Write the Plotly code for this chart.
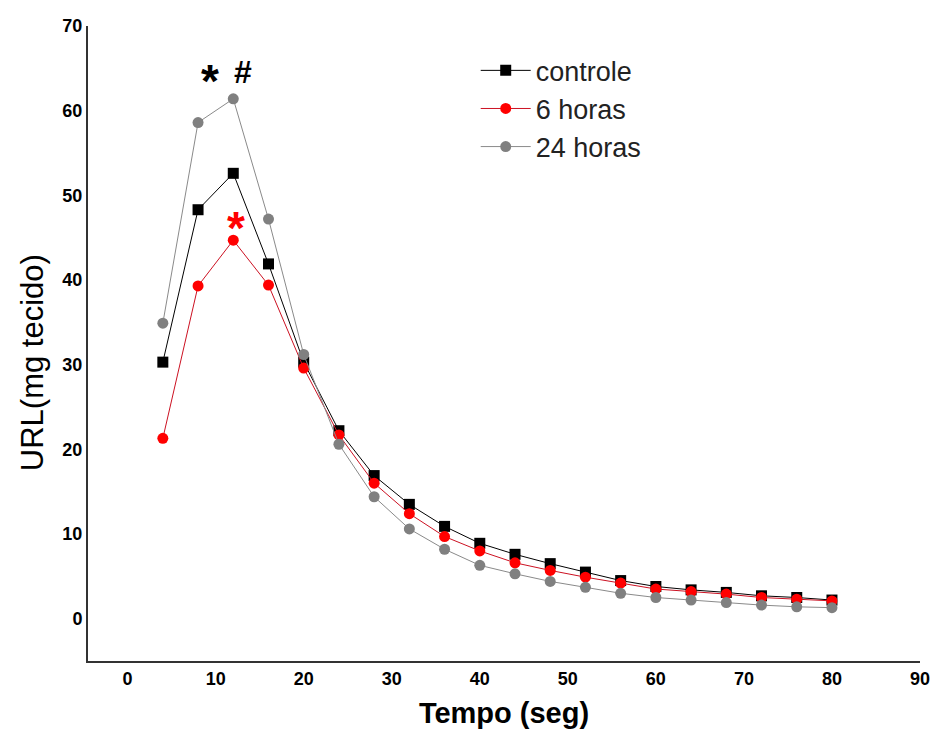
import plotly.graph_objects as go

tempo = [4, 8, 12, 16, 20, 24, 28, 32, 36, 40, 44, 48, 52, 56, 60, 64, 68, 72, 76, 80]
controle = [30.3, 48.3, 52.6, 41.9, 30.3, 22.2, 16.9, 13.5, 10.9, 8.9, 7.6, 6.5, 5.5, 4.5, 3.8, 3.4, 3.1, 2.7, 2.5, 2.2]
horas6 = [21.3, 39.3, 44.7, 39.4, 29.6, 21.7, 16.0, 12.4, 9.7, 8.0, 6.6, 5.7, 4.9, 4.2, 3.5, 3.2, 2.9, 2.5, 2.3, 2.1]
horas24 = [34.9, 58.6, 61.4, 47.2, 31.2, 20.6, 14.4, 10.6, 8.2, 6.3, 5.3, 4.4, 3.7, 3.0, 2.5, 2.2, 1.9, 1.6, 1.4, 1.3]

x_ticks = [0, 10, 20, 30, 40, 50, 60, 70, 80, 90]
y_ticks = [0, 10, 20, 30, 40, 50, 60, 70]

fig = go.Figure()
fig.add_trace(go.Scatter(x=tempo, y=controle, name="controle", mode="lines+markers",
                         line=dict(color="#000000", width=1),
                         marker=dict(symbol="square", size=11, color="#000000")))
fig.add_trace(go.Scatter(x=tempo, y=horas6, name="6 horas", mode="lines+markers",
                         line=dict(color="#cc1122", width=1),
                         marker=dict(symbol="circle", size=11, color="#ff0000")))
fig.add_trace(go.Scatter(x=tempo, y=horas24, name="24 horas", mode="lines+markers",
                         line=dict(color="#8a8a8a", width=1),
                         marker=dict(symbol="circle", size=11, color="#808080")))

fig.add_annotation(x=9.3, y=64.1, text="<b>*</b>", showarrow=False,
                   font=dict(size=46, color="#000000", family="Arial, Liberation Sans"), yshift=-5)
fig.add_annotation(x=13.1, y=64.6, text="<b>#</b>", showarrow=False,
                   font=dict(size=32, color="#000000", family="Arial, Liberation Sans"))
fig.add_annotation(x=12.3, y=47.2, text="<b>*</b>", showarrow=False,
                   font=dict(size=46, color="#ff0000", family="Arial, Liberation Sans"), yshift=-9)

fig.add_annotation(xref="paper", yref="paper", x=-0.0673, y=0.469, text="URL(mg tecido)",
                   textangle=-90, showarrow=False, xanchor="center", yanchor="middle",
                   font=dict(family="Arial, Liberation Sans", size=31, color="#000000"))

axis_font = dict(family="Arial, Liberation Sans", size=18, color="#000000", weight="bold")
fig.update_layout(
    width=943, height=729,
    margin=dict(l=88, r=23, t=26, b=68),
    paper_bgcolor="white", plot_bgcolor="white",
    showlegend=True,
    legend=dict(x=0.466, y=0.968, xanchor="left", yanchor="top",
                bgcolor="rgba(0,0,0,0)", itemwidth=50,
                font=dict(family="Arial, Liberation Sans", size=27, color="#222222"),
                tracegroupgap=0),
    xaxis=dict(range=[-4.5, 90], tickvals=x_ticks, showgrid=False, zeroline=False,
               showline=True, linecolor="#333333", linewidth=2, ticks="",
               tickfont=axis_font, automargin=False,
               title=dict(text="Tempo (seg)", standoff=16,
                          font=dict(family="Arial, Liberation Sans", size=29, color="#000000", weight="bold"))),
    yaxis=dict(range=[-5, 70], tickvals=y_ticks, showgrid=False, zeroline=False,
               showline=True, linecolor="#333333", linewidth=2, ticks="",
               tickfont=axis_font, automargin=False),
)

fig.write_html("out.html")
